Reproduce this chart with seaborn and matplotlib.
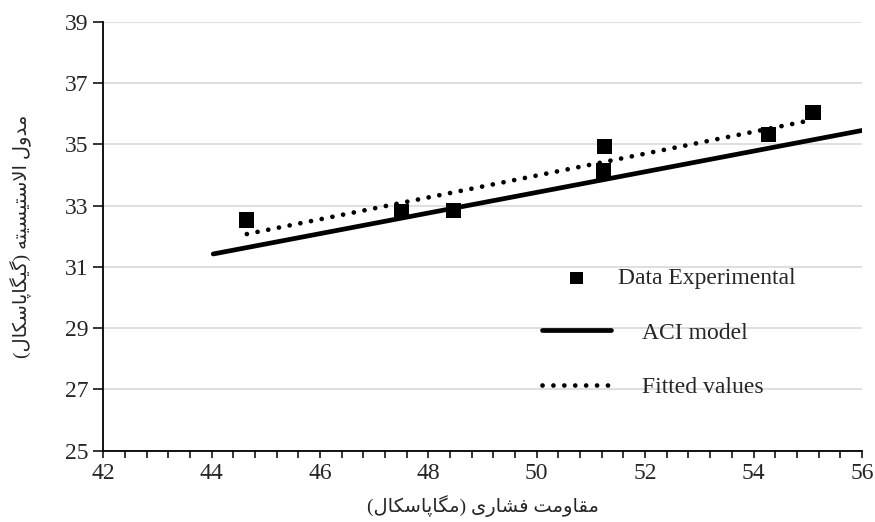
import matplotlib
matplotlib.use("Agg")
import matplotlib.pyplot as plt
from matplotlib.ticker import MultipleLocator
from matplotlib.transforms import ScaledTranslation
import seaborn as sns

# experimental points (compressive strength MPa, modulus GPa)
exp_strength = [44.65, 47.51, 48.46, 51.25, 51.23, 54.28, 55.10]
exp_modulus = [32.53, 32.80, 32.83, 34.94, 34.13, 35.33, 36.04]

# ACI model line
aci_strength = [44.03, 56.0]
aci_modulus = [31.42, 35.45]

# fitted values line
fit_strength = [44.65, 55.10]
fit_modulus = [32.07, 35.80]

y_ticks = [25, 27, 29, 31, 33, 35, 37, 39]
x_label = "مقاومت فشاری (مگاپاسکال)"
y_label = "مدول الاستیسیته (گیگاپاسکال)"
legend_labels = ["Data Experimental", "ACI model", "Fitted values"]

# matplotlib does no arabic shaping, so pick presentation forms by hand
FORMS = {
    "\u0627": ("\uFE8D", "\uFE8E", None, None),
    "\u062A": ("\uFE95", "\uFE96", "\uFE97", "\uFE98"),
    "\u062F": ("\uFEA9", "\uFEAA", None, None),
    "\u0631": ("\uFEAD", "\uFEAE", None, None),
    "\u0633": ("\uFEB1", "\uFEB2", "\uFEB3", "\uFEB4"),
    "\u0634": ("\uFEB5", "\uFEB6", "\uFEB7", "\uFEB8"),
    "\u0641": ("\uFED1", "\uFED2", "\uFED3", "\uFED4"),
    "\u0642": ("\uFED5", "\uFED6", "\uFED7", "\uFED8"),
    "\u0644": ("\uFEDD", "\uFEDE", "\uFEDF", "\uFEE0"),
    "\u0645": ("\uFEE1", "\uFEE2", "\uFEE3", "\uFEE4"),
    "\u0647": ("\uFEE9", "\uFEEA", "\uFEEB", "\uFEEC"),
    "\u0648": ("\uFEED", "\uFEEE", None, None),
    "\u067E": ("\uFB56", "\uFB57", "\uFB58", "\uFB59"),
    "\u06A9": ("\uFB8E", "\uFB8F", "\uFB90", "\uFB91"),
    "\u06AF": ("\uFB92", "\uFB93", "\uFB94", "\uFB95"),
    "\u06CC": ("\uFBFC", "\uFBFD", "\uFBFE", "\uFBFF"),
}


def shape(s):
    ch = list(s)
    n = len(ch)

    def dual(c):
        return c in FORMS and FORMS[c][2] is not None

    out = []
    i = 0
    while i < n:
        c = ch[i]
        prev_j = i > 0 and dual(ch[i - 1]) and c in FORMS
        if c == "\u0644" and i + 1 < n and ch[i + 1] == "\u0627":
            out.append("\uFEFC" if prev_j else "\uFEFB")
            i += 2
            continue
        if c in FORMS:
            iso, fin, ini, med = FORMS[c]
            next_j = i < n - 1 and dual(c) and ch[i + 1] in FORMS
            if prev_j and next_j:
                g = med
            elif prev_j:
                g = fin
            elif next_j:
                g = ini
            else:
                g = iso
            out.append(g)
        else:
            out.append(c)
        i += 1
    return "".join(reversed(out)).translate(str.maketrans("()", ")("))


sns.set_style("white")
plt.rcParams["font.family"] = ["Liberation Serif", "DejaVu Sans"]

fig = plt.figure(figsize=(8.75, 5.22), dpi=100)
ax = fig.add_axes([0.118, 0.1366, 0.867, 0.8218])

sns.lineplot(x=aci_strength, y=aci_modulus, color="black", lw=3.4,
             solid_capstyle="round", label=legend_labels[1], ax=ax, zorder=3)
sns.lineplot(x=fit_strength, y=fit_modulus, color="black", lw=3.4,
             linestyle=(0, (0.01, 2.3)), dash_capstyle="round",
             label=legend_labels[2], ax=ax, zorder=3)
sns.scatterplot(x=exp_strength, y=exp_modulus, marker="s", s=120,
                color="black", edgecolor="none", label=legend_labels[0],
                ax=ax, zorder=4)

ax.set_xlim(42, 56)
ax.set_ylim(25, 39)
ax.xaxis.set_major_locator(MultipleLocator(2))
ax.xaxis.set_minor_locator(MultipleLocator(0.4))
ax.set_yticks(y_ticks)
ax.tick_params(axis="both", which="both", direction="out", color="black",
               labelsize=17, width=1.1, bottom=True, left=True)
ax.tick_params(axis="x", which="both", length=5)
ax.tick_params(axis="y", which="major", length=7)
ax.grid(axis="y", color="#d9d9d9", lw=1.2)
ax.grid(axis="x", visible=False)
for side in ["top", "right"]:
    ax.spines[side].set_visible(False)
for side in ["left", "bottom"]:
    ax.spines[side].set_color("black")
    ax.spines[side].set_linewidth(1.3)

ax.set_xlabel(shape(x_label), fontsize=14, labelpad=8)
ax.set_ylabel(shape(y_label), fontsize=14, labelpad=24)

handles, labels = ax.get_legend_handles_labels()
order = [labels.index(l) for l in legend_labels]
leg = ax.legend([handles[i] for i in order], [labels[i] for i in order],
                loc="upper left", bbox_to_anchor=(0.578, 0.427), frameon=False,
                fontsize=17, handlelength=2.95, handletextpad=1.3,
                labelspacing=1.4, borderaxespad=0, borderpad=0,
                markerscale=0.8)
# first legend label sits further left in the original
t0 = leg.get_texts()[0]
t0.set_transform(t0.get_transform() + ScaledTranslation(-24 / 100, 0, fig.dpi_scale_trans))

fig.savefig("out.png", dpi=100)
